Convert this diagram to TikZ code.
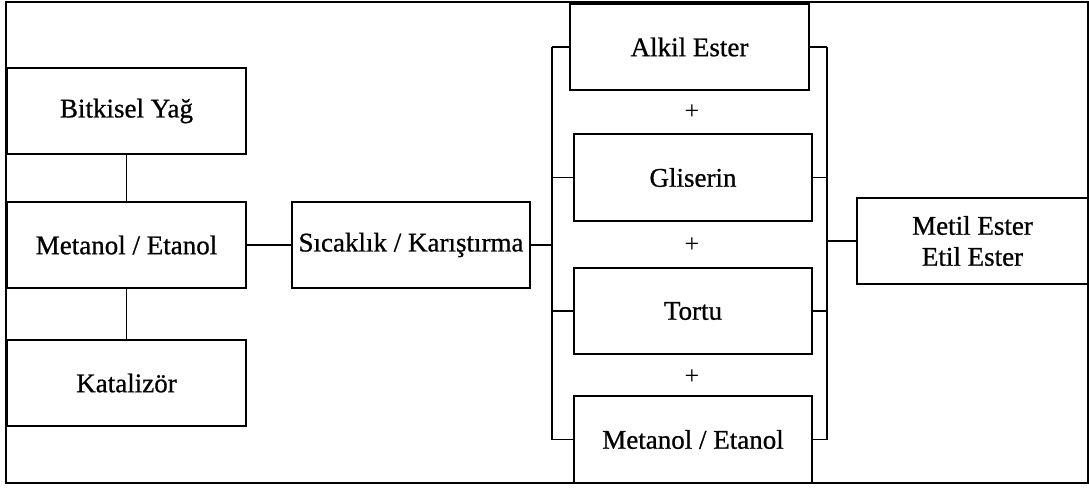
\documentclass[tikz,border=0pt]{standalone}
\usepackage{fontspec}
\setmainfont{Liberation Serif}
\newfontfamily\boxfont[FakeBold=0.8]{Liberation Serif}
\begin{document}
\begin{tikzpicture}[x=1pt,y=-1pt,
  every node/.style={font=\boxfont\fontsize{27}{31}\selectfont, inner sep=0pt},
  stepbox/.style={draw, line width=1.5pt, minimum height=86pt, align=center},
  link/.style={line width=1.5pt},
  plus/.style={font=\fontsize{26}{31}\selectfont}]
\useasboundingbox (0,0) rectangle (1089,488);
% outer frame
\draw[line width=2.2pt] (6,2) rectangle (1088,483);

% inputs
\node[stepbox, minimum width=239pt] (yag) at (126.5,111) {Bitkisel Yağ};
\node[stepbox, minimum width=239pt] (alkol) at (126.5,245) {Metanol / Etanol};
\node[stepbox, minimum width=239pt] (kat) at (126.5,383) {Katalizör};

% process
\node[stepbox, minimum width=238pt] (isi) at (411,245) {Sıcaklık / Karıştırma};

% products
\node[stepbox, minimum width=239pt] (ester) at (689.5,47) {Alkil Ester};
\node[stepbox, minimum width=238pt, minimum height=87pt] (gli) at (693,177.5) {Gliserin};
\node[stepbox, minimum width=238pt] (tortu) at (693,311) {Tortu};
\node[stepbox, minimum width=238pt, minimum height=87pt] (alkol2) at (693,439.5) {Metanol / Etanol};

\node[plus] (p1) at (692,112) {+};
\node[plus] (p2) at (692,245) {+};
\node[plus] (p3) at (692,377) {+};

% result
\node[stepbox, minimum width=231pt] (son) at (972.5,241) {Metil Ester\\Etil Ester};

% bus lines
\coordinate (busL) at (552,0);
\coordinate (busR) at (827,0);

% left column links
\draw[link] (yag.south) -- (alkol.north);
\draw[link] (alkol.south) -- (kat.north);
\draw[link] (alkol.east) -- (isi.west);

% split towards products
\draw[link] (isi.east) -- (isi.east -| busL);
\draw[link] (ester.west -| busL) -- (alkol2.west -| busL);
\foreach \n in {ester,gli,tortu,alkol2}
  \draw[link] (\n.west) -- (\n.west -| busL);

% merge into result
\draw[link] (ester.east -| busR) -- (alkol2.east -| busR);
\foreach \n in {ester,gli,tortu,alkol2}
  \draw[link] (\n.east) -- (\n.east -| busR);
\draw[link] (son.west -| busR) -- (son.west);
\end{tikzpicture}
\end{document}
